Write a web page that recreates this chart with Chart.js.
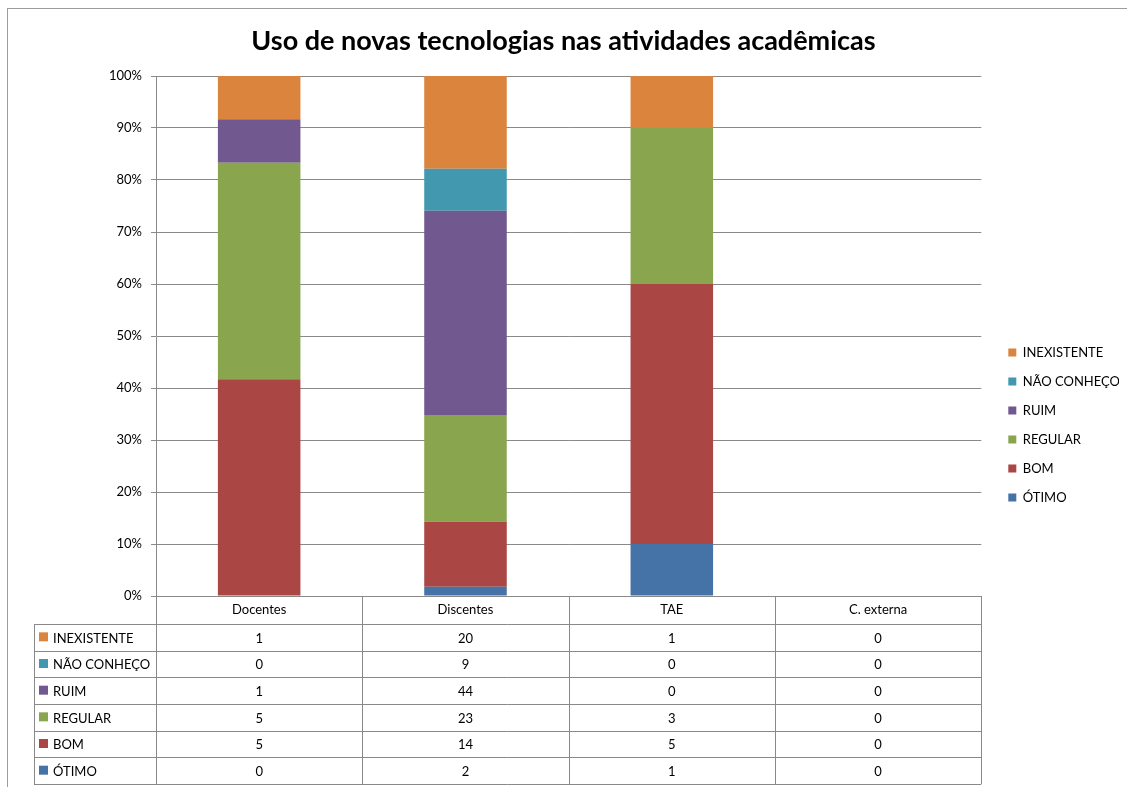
<!DOCTYPE html>
<html>
<head>
<meta charset="utf-8">
<script src="https://cdn.jsdelivr.net/npm/chart.js@4"></script>
<style>
    html, body { margin: 0; padding: 0; background: #fff; overflow: hidden; }
    #frame {
        position: absolute; left: 7px; top: 8px;
        width: 1127px; height: 779px;
        border-left: 1px solid #9c9c9c; border-top: 1px solid #9c9c9c;
    }
</style>
</head>
<body>
<div id="frame"><canvas id="chart" width="1127" height="779"></canvas></div>
<script>
const categories = ['Docentes', 'Discentes', 'TAE', 'C. externa'];
const seriesNames = ['ÓTIMO', 'BOM', 'REGULAR', 'RUIM', 'NÃO CONHEÇO', 'INEXISTENTE'];
const otimo = [0, 2, 1, 0];
const bom = [5, 14, 5, 0];
const regular = [5, 23, 3, 0];
const ruim = [1, 44, 0, 0];
const naoConheco = [0, 9, 0, 0];
const inexistente = [1, 20, 1, 0];
const yTicks = [0, 10, 20, 30, 40, 50, 60, 70, 80, 90, 100];

const seriesValues = [otimo, bom, regular, ruim, naoConheco, inexistente];
const seriesColors = ['#4572A7', '#AA4643', '#89A54E', '#71588F', '#4198AF', '#DB843D'];
const gridColor = '#898989';
const fontFamily = 'Lato, "Open Sans", sans-serif';

// totais por categoria -> 100% empilhado
const totals = categories.map((c, i) => seriesValues.reduce((s, arr) => s + arr[i], 0));
const toPct = arr => arr.map((v, i) => totals[i] ? v / totals[i] * 100 : 0);

const datasets = seriesNames.map((name, k) => ({
    label: name,
    data: toPct(seriesValues[k]),
    backgroundColor: seriesColors[k],
    borderWidth: 0,
    barPercentage: 0.4,
    categoryPercentage: 1
}));

// tabela de dados desenhada debaixo do eixo
const dataTable = {
    id: 'dataTable',
    afterDraw(chart) {
        const { ctx, chartArea: a, scales: { x } } = chart;
        const n = categories.length;
        const colW = a.width / n;
        const headTop = a.bottom;
        const headH = 28;
        const rowH = 26.67;
        const rowsTop = headTop + headH;
        const tableLeft = 26;
        const nRows = seriesNames.length;
        const bottom = rowsTop + nRows * rowH;
        const px = v => Math.round(v) + 0.5;

        ctx.save();
        ctx.strokeStyle = gridColor;
        ctx.lineWidth = 1;
        ctx.beginPath();
        for (let i = 0; i <= n; i++) {
            const xx = px(a.left + i * colW);
            ctx.moveTo(xx, headTop);
            ctx.lineTo(xx, bottom);
        }
        ctx.moveTo(px(tableLeft), rowsTop);
        ctx.lineTo(px(tableLeft), bottom);
        for (let r = 0; r <= nRows; r++) {
            const yy = px(rowsTop + r * rowH);
            ctx.moveTo(tableLeft, yy);
            ctx.lineTo(a.right, yy);
        }
        ctx.stroke();

        ctx.fillStyle = '#000';
        ctx.font = '13px ' + fontFamily;
        ctx.textAlign = 'center';
        ctx.textBaseline = 'middle';
        categories.forEach((c, i) => {
            ctx.fillText(c, x.getPixelForValue(i), headTop + headH / 2);
        });

        // linhas na ordem inversa (INEXISTENTE em cima)
        for (let r = 0; r < nRows; r++) {
            const k = nRows - 1 - r;
            const cy = rowsTop + r * rowH + rowH / 2 + 1;
            ctx.fillStyle = seriesColors[k];
            ctx.fillRect(tableLeft + 5, cy - 6, 9, 9);
            ctx.fillStyle = '#000';
            ctx.textAlign = 'left';
            ctx.fillText(seriesNames[k], tableLeft + 19, cy);
            ctx.textAlign = 'center';
            seriesValues[k].forEach((v, i) => {
                ctx.fillText(String(v), x.getPixelForValue(i), cy);
            });
        }
        ctx.restore();
    }
};

// legenda à direita, na altura usada pelo Excel
const legendPlacer = {
    id: 'legendPlacer',
    afterLayout(chart) {
        const lg = chart.legend;
        const h = lg.bottom - lg.top;
        lg.left = chart.chartArea.right + 11;
        lg.top = 321;
        lg.bottom = lg.top + h;
    }
};

new Chart(document.getElementById('chart'), {
    type: 'bar',
    data: { labels: categories, datasets: datasets },
    plugins: [dataTable, legendPlacer],
    options: {
        responsive: false,
        animation: false,
        layout: { padding: { left: 0, right: 16, top: 0, bottom: 192 } },
        scales: {
            x: { stacked: true, display: false },
            y: {
                stacked: true,
                min: 0,
                max: 100,
                afterFit(scale) { scale.width = 148; },
                afterBuildTicks(scale) { scale.ticks = yTicks.map(v => ({ value: v })); },
                ticks: {
                    callback: v => v + '%',
                    color: '#000',
                    padding: 9,
                    font: { family: fontFamily, size: 13 }
                },
                grid: { color: gridColor, tickLength: 5 },
                border: { color: gridColor }
            }
        },
        plugins: {
            title: {
                display: true,
                text: 'Uso de novas tecnologias nas atividades acadêmicas',
                color: '#000',
                font: { family: fontFamily, size: 27, weight: 'bold' },
                padding: { top: 16, bottom: 18.6 }
            },
            legend: {
                position: 'right',
                align: 'start',
                reverse: true,
                labels: {
                    boxWidth: 8,
                    boxHeight: 8,
                    padding: 16,
                    color: '#000',
                    font: { family: fontFamily, size: 13 }
                }
            },
            tooltip: { enabled: false }
        }
    }
});
</script>
</body>
</html>
